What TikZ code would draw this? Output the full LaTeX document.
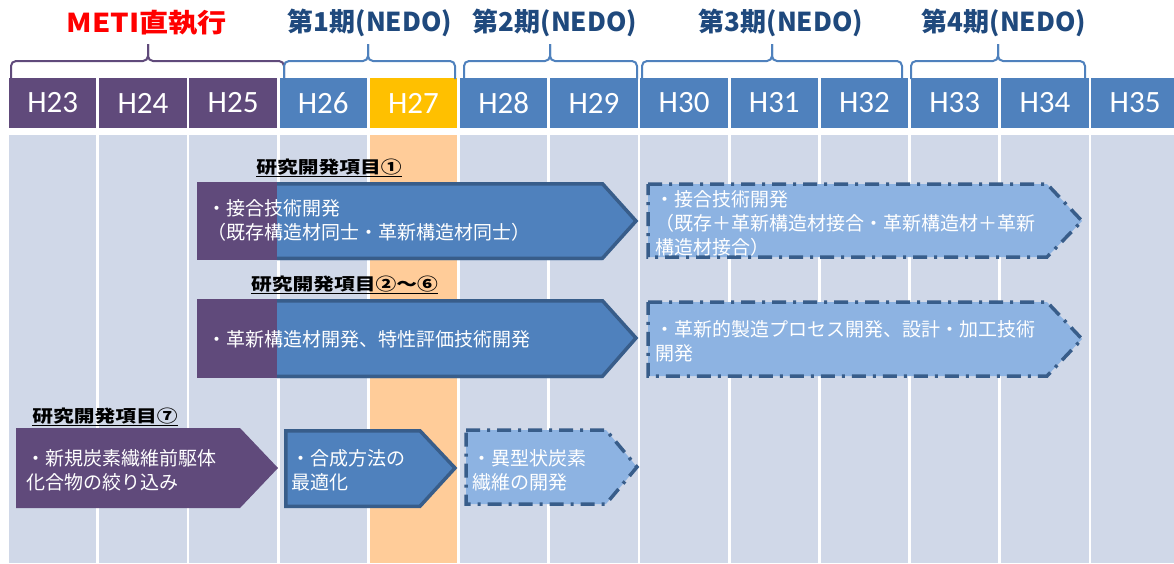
\documentclass[tikz,border=0pt]{standalone}
\usepackage{fontspec}
\usepackage{graphicx}
\setmainfont{Carlito}
\newfontfamily\jp{Noto Sans CJK JP}
\definecolor{purp}{HTML}{604A7B}
\definecolor{hblue}{HTML}{4F81BD}
\definecolor{gold}{HTML}{FFC000}
\definecolor{bgrey}{HTML}{D0D8E8}
\definecolor{peach}{HTML}{FFCC99}
\definecolor{dkb}{HTML}{385D8A}
\definecolor{lblue}{HTML}{8DB3E2}
\definecolor{ttlblue}{HTML}{1F497D}
\tikzset{
 hdr/.style={minimum width=87.4pt, minimum height=50pt, inner sep=0pt, text=white, font=\fontsize{31}{31}\selectfont},
 ttl/.style={font=\jp\bfseries\fontsize{26}{26}\selectfont, inner sep=0pt},
 lbl/.style={font=\jp\bfseries\fontsize{17}{17}\selectfont, inner sep=0pt, text=black},
 bodytxt/.style={font=\jp\fontsize{19}{24}\selectfont, text=white, align=left, anchor=west, inner sep=0pt},
 lightarrow/.style={fill=lblue, draw=dkb, line width=3.5pt, dash pattern=on 14pt off 7pt on 3pt off 7pt},
 darkedge/.style={draw=dkb, line width=3.5pt},
 bracebar/.style={line width=2pt, rounded corners=5pt},
}
\newcommand\drawbrace[4]{%
 \draw[bracebar,#4] (#1,79) -- (#1,61) -- (#2,61) -- (#2,44);
 \draw[bracebar,#4] (#3,79) -- (#3,61) -- (#2,61) -- (#2,44);
}
\begin{document}
\begin{tikzpicture}[x=1pt,y=-1pt]
\useasboundingbox (0,0) rectangle (1174,563);
\fill[white] (0,0) rectangle (1174,563);
% body columns
\foreach \i in {0,...,12} { \fill[bgrey] ({9+90.2*\i},135) rectangle ++(87.4,428); }
\fill[peach] ({9+90.2*4},135) rectangle ++(87.4,428);
% header
\foreach \n/\c [count=\i from 0] in {23/purp,24/purp,25/purp,26/hblue,27/gold,28/hblue,29/hblue,30/hblue,31/hblue,32/hblue,33/hblue,34/hblue,35/hblue}
  \node[hdr, fill=\c] (h\n) at ({9+90.2*\i+43.7},103) {H\n};
% braces
\drawbrace{11}{148}{284}{purp}
\drawbrace{284}{368}{455}{hblue}
\drawbrace{464}{550}{637}{hblue}
\drawbrace{642}{772}{902}{hblue}
\drawbrace{911}{998}{1085}{hblue}
% titles
\node[ttl, text=red] (meti) at (147,22.5) {\scalebox{1.12}[1]{METI直執行}};
\node[ttl, text=ttlblue] (p1) at (370,22.5) {\scalebox{1.0}[1]{第1期(NEDO)}};
\node[ttl, text=ttlblue] (p2) at (555,22.5) {\scalebox{1.0}[1]{第2期(NEDO)}};
\node[ttl, text=ttlblue] (p3) at (781,22.5) {\scalebox{1.0}[1]{第3期(NEDO)}};
\node[ttl, text=ttlblue] (p4) at (1004,22.5) {\scalebox{1.0}[1]{第4期(NEDO)}};
% arrow 1
\fill[purp] (197,182) rectangle (278,260);
\fill[hblue] (277,182) -- (602,182) -- (638,221) -- (602,260) -- (277,260) -- cycle;
\draw[darkedge] (277,183.75) -- (602.5,183.75) -- (636,221) -- (602.5,258.25) -- (277,258.25);
\node[lbl] (l1) at (329,168) {\scalebox{1.22}[1]{\underline{研究開発項目①}}};
\node[bodytxt] (t1) at (207,220) {・接合技術開発\\（既存構造材同士・革新構造材同士）};
% arrow 2
\fill[purp] (197,299) rectangle (278,378);
\fill[hblue] (277,299) -- (602,299) -- (638,338) -- (602,378) -- (277,378) -- cycle;
\draw[darkedge] (277,300.75) -- (602.5,300.75) -- (636,338) -- (602.5,376.25) -- (277,376.25);
\node[lbl] (l2) at (344.5,285) {\scalebox{1.22}[1]{\underline{研究開発項目②～⑥}}};
\node[bodytxt] (t2) at (207,339) {・革新構造材開発、特性評価技術開発};
% arrow 3
\path[lightarrow] (648,184) -- (1047,184) -- (1082,221) -- (1047,257) -- (648,257) -- cycle;
\node[bodytxt] (t3) at (655,223) {・接合技術開発\\（既存＋革新構造材接合・革新構造材＋革新\\構造材接合）};
% arrow 4
\path[lightarrow] (648,302) -- (1047,302) -- (1082,339) -- (1047,376) -- (648,376) -- cycle;
\node[bodytxt] (t4) at (655,341) {・革新的製造プロセス開発、設計・加工技術\\開発};
% row 7
\node[lbl] (l3) at (105,417) {\scalebox{1.22}[1]{\underline{研究開発項目⑦}}};
\fill[purp] (16,428) -- (240,428) -- (278,468) -- (240,508) -- (16,508) -- cycle;
\node[bodytxt] (t5) at (26,470) {・新規炭素繊維前駆体\\化合物の絞り込み};
\filldraw[fill=hblue, darkedge, line join=miter] (285.75,430.75) -- (420,430.75) -- (455,468) -- (420,506.25) -- (285.75,506.25) -- cycle;
\node[bodytxt] (t6) at (291,470) {・合成方法の\\最適化};
\path[lightarrow] (466,430) -- (606,430) -- (637,467) -- (606,504) -- (466,504) -- cycle;
\node[bodytxt] (t7) at (472,470) {・異型状炭素\\繊維の開発};
\end{tikzpicture}
\end{document}
